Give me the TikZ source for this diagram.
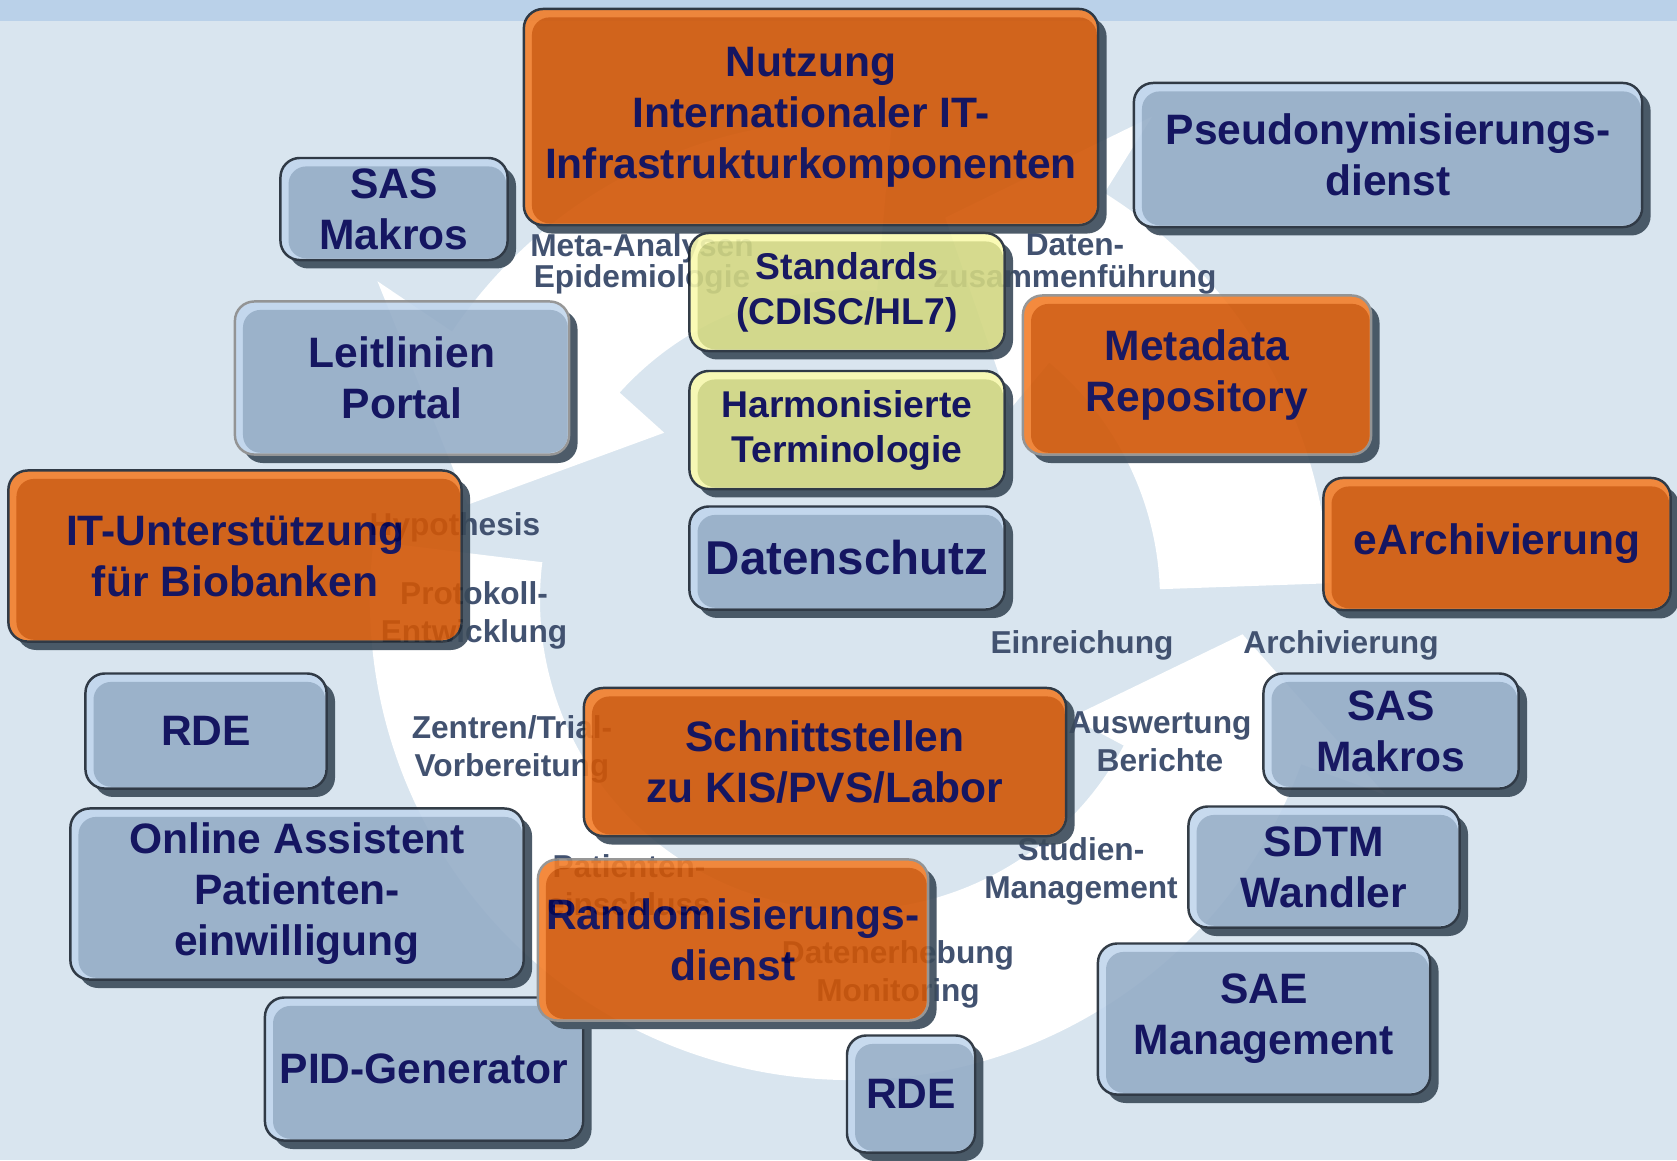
\documentclass[tikz,border=0pt]{standalone}
\usepackage{fontspec}
\setmainfont{Liberation Sans}
\usetikzlibrary{calc,shadows}

\definecolor{bgc}{RGB}{217,229,239}
\definecolor{bandc}{RGB}{186,209,233}
\definecolor{stagec}{RGB}{66,82,112}
\definecolor{navyc}{RGB}{0,0,82}
\definecolor{edgec}{RGB}{30,40,52}
\definecolor{edgegray}{RGB}{140,140,140}
\definecolor{shadowc}{RGB}{58,74,89}
\definecolor{orbody}{RGB}{209,86,6}
\definecolor{orhi}{RGB}{243,126,42}
\definecolor{blbody}{RGB}{149,173,199}
\definecolor{blhi}{RGB}{193,214,237}
\definecolor{yebody}{RGB}{210,215,130}
\definecolor{yehi}{RGB}{250,250,174}

\begin{document}
\begin{tikzpicture}[x=0.01cm, y=-0.01cm,
    box/.style={rectangle, rounded corners=5.5pt, draw=edgec, line width=0.7pt, inner sep=0pt, text=navyc, align=center,
      drop shadow={shadow xshift=2.4pt, shadow yshift=-2.4pt, fill=shadowc, opacity=1, path picture={}},
      font=\bfseries\fontsize{12.1}{14.5}\selectfont},
    orbox/.style={box, fill=orhi,
      path picture={\fill[orbody, rounded corners=5pt] ([xshift=2.3pt, yshift=0.5pt]path picture bounding box.south west) rectangle ([xshift=-0.4pt, yshift=-2.4pt]path picture bounding box.north east);}},
    blbox/.style={box, fill=blhi,
      path picture={\fill[blbody, rounded corners=5pt] ([xshift=2.3pt, yshift=0.5pt]path picture bounding box.south west) rectangle ([xshift=-0.4pt, yshift=-2.4pt]path picture bounding box.north east);}},
    yebox/.style={box, fill=yehi, font=\bfseries\fontsize{10.6}{12.8}\selectfont,
      path picture={\fill[yebody, rounded corners=5pt] ([xshift=2.3pt, yshift=0.5pt]path picture bounding box.south west) rectangle ([xshift=-0.4pt, yshift=-2.4pt]path picture bounding box.north east);}},
    stage/.style={text=stagec, font=\bfseries\fontsize{9}{10.8}\selectfont, align=center, inner sep=0pt},
    stagetight/.style={stage, font=\bfseries\fontsize{9}{8.9}\selectfont},
    ring/.style={fill=white}
  ]
  \useasboundingbox (0,0) rectangle (1677,1160);

  % Hintergrund
  \fill[bgc] (0,0) rectangle (1677,1160);
  \fill[bandc] (0,0) rectangle (1677,21);

  % Studienzyklus (weisse Pfeile)
  \coordinate (ctr) at (850,600);
  \foreach \a/\o/\i/\t in {187/20/28/5, -2/-58/-50/-76, 275/214/222/194}
    \fill[ring] ($(ctr)+(\a:480)$) arc[start angle=\a, end angle=\o, radius=480]
      -- ($(ctr)+(\o:570)$) -- ($(ctr)+(\t:394)$) -- ($(ctr)+(\i:250)$) -- ($(ctr)+(\i:310)$)
      arc[start angle=\i, end angle=\a, radius=310] -- cycle;

  % Phasen
  \node[stagetight] (metaana) at (642,264) {Meta-Analysen\\Epidemiologie};
  \node[stagetight] (zusammen) at (1075,264) {Daten-\\zusammenführung};
  \node[stage] (hypo) at (455,527) {Hypothesis};
  \node[stage] (proto) at (474,615) {Protokoll-\\Entwicklung};
  \node[stage] (zentren) at (512,749) {Zentren/Trial-\\Vorbereitung};
  \node[stage] (einschl) at (629,885) {Patienten-\\einschluss};
  \node[stage] (erheb) at (898,974) {Datenerhebung\\Monitoring};
  \node[stage] (studman) at (1081,871) {Studien-\\Management};
  \node[stage] (auswert) at (1160,742) {Auswertung\\Berichte};
  \node[stage] (einreich) at (1082,645) {Einreichung};
  \node[stage] (archiv) at (1341,645) {Archivierung};

  % Komponenten
  \begin{scope}[transparency group, opacity=0.9]
    \node[orbox, minimum width=5.74cm, minimum height=2.16cm] (nutz) at (811,117) {Nutzung\\Internationaler IT-\\Infrastrukturkomponenten};
    \node[blbox, minimum width=5.08cm, minimum height=1.44cm] (pseudo) at (1388,155) {Pseudonymisierungs-\\dienst};
    \node[blbox, minimum width=2.27cm, minimum height=1.02cm] (sasl) at (394,209) {SAS\\Makros};
    \node[yebox, minimum width=3.15cm, minimum height=1.18cm] (std) at (847,292) {Standards\\(CDISC/HL7)};
    \node[blbox, draw=edgegray, minimum width=3.34cm, minimum height=1.53cm] (leit) at (402,378) {Leitlinien\\Portal};
    \node[orbox, draw=edgegray, minimum width=3.48cm, minimum height=1.59cm] (mdr) at (1197,375) {Metadata\\Repository};
    \node[yebox, minimum width=3.15cm, minimum height=1.18cm] (harm) at (847,430) {Harmonisierte\\Terminologie};
    \node[orbox, minimum width=4.53cm, minimum height=1.71cm] (biob) at (235,556) {IT-Unterstützung\\für Biobanken};
    \node[blbox, minimum width=3.15cm, minimum height=1.03cm, font=\bfseries\fontsize{13.5}{16}\selectfont] (dsch) at (847,558) {Datenschutz};
    \node[orbox, minimum width=3.47cm, minimum height=1.32cm] (earch) at (1497,544) {eArchivierung};
    \node[blbox, minimum width=2.41cm, minimum height=1.15cm] (rdel) at (206,731) {RDE};
    \node[orbox, minimum width=4.82cm, minimum height=1.48cm] (kis) at (825,762) {Schnittstellen\\zu KIS/PVS/Labor};
    \node[blbox, minimum width=2.55cm, minimum height=1.15cm] (sasr) at (1391,731) {SAS\\Makros};
    \node[blbox, minimum width=4.53cm, minimum height=1.71cm] (online) at (297,894) {Online Assistent\\Patienten-\\einwilligung};
    \node[blbox, minimum width=2.71cm, minimum height=1.21cm] (sdtm) at (1324,867) {SDTM\\Wandler};
    \node[blbox, minimum width=3.32cm, minimum height=1.51cm] (sae) at (1264,1019) {SAE\\Management};
    \node[blbox, minimum width=3.18cm, minimum height=1.43cm] (pid) at (424,1069) {PID-Generator};
    \node[orbox, draw=edgegray, minimum width=3.90cm, minimum height=1.61cm] (rand) at (733,940) {Randomisierungs-\\dienst};
    \node[blbox, minimum width=1.28cm, minimum height=1.17cm] (rdeb) at (911,1094) {RDE};
  \end{scope}
\end{tikzpicture}
\end{document}
